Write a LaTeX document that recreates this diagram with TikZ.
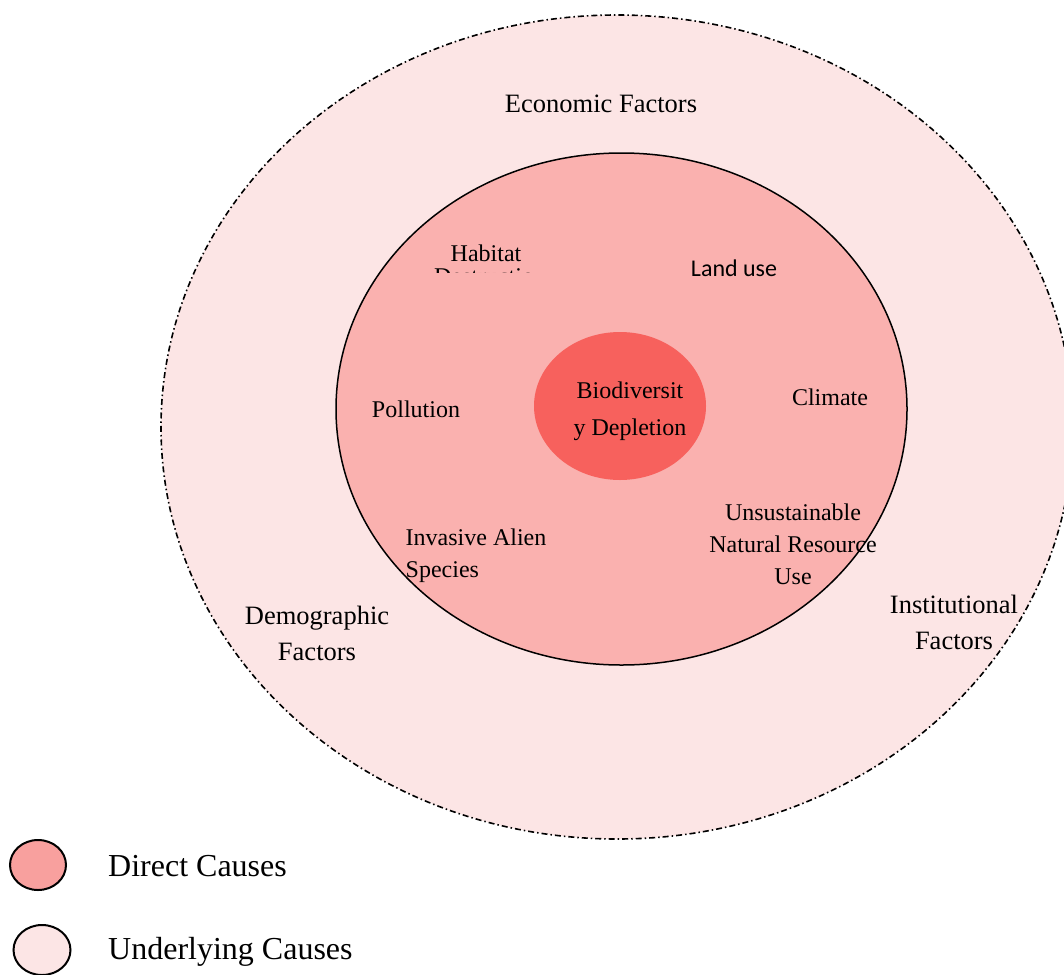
\documentclass[tikz,border=0pt]{standalone}
\usepackage{fontspec}
\setmainfont{Liberation Serif}
\newfontfamily\bdcalibri{Carlito}
\usetikzlibrary{shapes.geometric,positioning}
\definecolor{BdOuter}{RGB}{252,229,229}
\definecolor{BdInner}{RGB}{250,177,175}
\definecolor{BdCore}{RGB}{247,97,93}
\definecolor{BdLegend}{RGB}{248,160,158}
\tikzset{
  bd/outer/.style={
    ellipse,
    draw=black,
    line width=1.6pt,
    dash pattern=on 6pt off 3pt on 1.5pt off 3pt,
    fill=BdOuter,
    inner sep=0pt,
    minimum width=912pt,
    minimum height=824pt
  },
  bd/inner/.style={
    ellipse,
    draw=black,
    line width=1.5pt,
    fill=BdInner,
    inner sep=0pt,
    minimum width=571pt,
    minimum height=512pt
  },
  bd/core/.style={
    ellipse,
    fill=BdCore,
    inner sep=0pt,
    minimum width=172pt,
    minimum height=148pt
  },
  bd/key/.style={
    ellipse,
    draw=black,
    line width=2pt,
    inner sep=0pt,
    minimum width=56pt,
    minimum height=50pt
  },
  bd/label/.style={inner sep=0pt, align=center, font=\fontsize{24}{32}\selectfont},
  bd/factor/.style={inner sep=0pt, align=center, font=\fontsize{26.5}{36}\selectfont},
  bd/keytext/.style={inner sep=0pt, anchor=west, font=\fontsize{32}{38}\selectfont}
}

\begin{document}
\begin{tikzpicture}[x=1pt,y=-1pt]
  \clip (0,0) rectangle (1064,974);
  \fill[white] (0,0) rectangle (1064,974);

  % underlying, direct and core rings
  \node[bd/outer] (underlying) at (617,427) {};
  \node[bd/inner] (direct) at (621.5,409) {};
  \node[bd/core] (core) at (620,406) {};

  % underlying causes
  \node[bd/factor] (economic) at (601,104) {Economic Factors};
  \node[bd/factor] (demographic) at (317,633) {Demographic\\Factors};
  \node[bd/factor] (institutional) at (954,622) {Institutional\\Factors};

  % direct causes
  \node[bd/label, anchor=base] (habitat) at (486,261) {Habitat};
  \begin{scope}
    \clip (380,230) rectangle (600,272);
    \node[bd/label, anchor=base] (destruct) at (484,284) {Destructio};
  \end{scope}
  \node[bd/label, font=\bdcalibri\fontsize{24}{32}\selectfont] (landuse) at (734,268) {Land use};
  \node[bd/label] (pollution) at (416,409) {Pollution};
  \node[bd/label] (climate) at (830,397) {Climate};
  \node[bd/label, align=left] (invasive) at (476,556) {Invasive Alien\\Species};
  \node[bd/label] (resource) at (793,544) {Unsustainable\\Natural Resource\\Use};
  \node[bd/label, font=\fontsize{24}{37}\selectfont] (depletion) at (630,411) {Biodiversit\\y Depletion};

  % key
  \node[bd/key, fill=BdLegend] (keydirect) at (38,865) {};
  \node[bd/key, fill=BdOuter, minimum width=57pt] (keyunder) at (42,950) {};
  \node[bd/keytext] (keydirecttext) at (108,866) {Direct Causes};
  \node[bd/keytext] (keyundertext) at (108,952) {Underlying Causes};
\end{tikzpicture}
\end{document}
